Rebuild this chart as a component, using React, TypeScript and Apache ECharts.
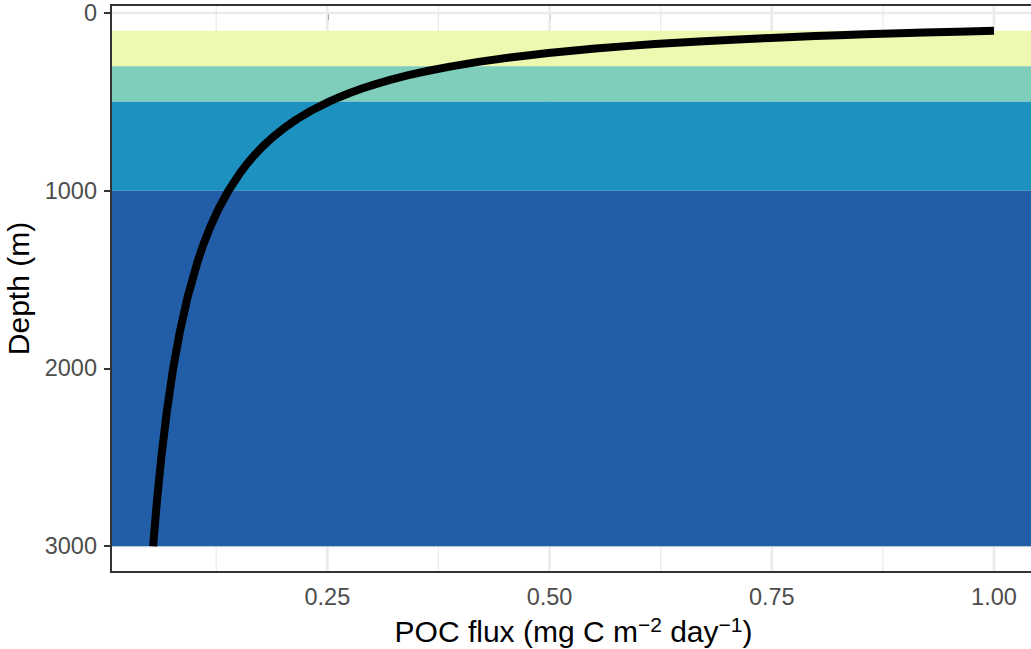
import React, { useEffect, useRef } from "react";
import * as echarts from "echarts";

// Depth (m) and POC flux
const depth = [100, 105, 110, 120, 125, 130, 140, 150, 160, 175, 185, 200, 225, 250, 275, 300, 325, 350, 375, 400, 425, 450, 475, 500, 550, 600, 650, 700, 750, 800, 850, 900, 1000, 1100, 1200, 1300, 1400, 1600, 1800, 2000, 2250, 2500, 2750, 3000];
const flux = [1.0, 0.959, 0.9215, 0.8552, 0.8257, 0.7984, 0.7493, 0.7062, 0.6681, 0.6187, 0.5899, 0.5517, 0.4987, 0.4556, 0.4198, 0.3896, 0.3637, 0.3413, 0.3217, 0.3044, 0.289, 0.2751, 0.2627, 0.2514, 0.2316, 0.2149, 0.2007, 0.1883, 0.1775, 0.1679, 0.1594, 0.1518, 0.1387, 0.1278, 0.1186, 0.1107, 0.1039, 0.0927, 0.0838, 0.0765, 0.0692, 0.0632, 0.0582, 0.054];

// Depth zones
const bandTop = [100, 300, 500, 1000];
const bandBottom = [300, 500, 1000, 3000];
const bandColors = ["#edf8b1", "#7fcdbb", "#1d91c0", "#225ea8"];

// Ticks
const xTicks = [0.25, 0.5, 0.75, 1.0];
const xMinor = [0.125, 0.375, 0.625, 0.875];
const yTicks = [0, 1000, 2000, 3000];
const yMinor = [500, 1500, 2500];

const X_MIN = 0.0066;
const X_MAX = 1.0473;
const Y_MIN = -45;
const Y_MAX = 3145;

const FONT = "'Liberation Sans', Arial, Helvetica, sans-serif";

export default function App() {
  const ref = useRef<HTMLDivElement>(null);
  useEffect(() => {
    document.body.style.margin = "0";
    const chart = echarts.init(ref.current!, undefined, { renderer: "svg" });
    const gridLeft = 111, gridTop = 5, gridW = 925, gridH = 567;
    const vGrid = [...xTicks.map((v) => [v, 1]), ...xMinor.map((v) => [v, 0])];
    const hGrid = [...yTicks.map((v) => [v, 1]), ...yMinor.map((v) => [v, 0])];
    const option: any = {
      animation: false,
      backgroundColor: "#ffffff",
      textStyle: { fontFamily: FONT },
      grid: {
        left: gridLeft,
        top: gridTop,
        width: gridW,
        height: gridH,
        containLabel: false,
        outerBoundsMode: "none",
      },
      xAxis: {
        type: "value",
        min: X_MIN,
        max: X_MAX,
        axisLine: { show: false },
        splitLine: { show: false },
        axisTick: { show: true, customValues: xTicks, length: 7, lineStyle: { color: "#333333", width: 2 } },
        axisLabel: {
          customValues: xTicks,
          formatter: (v: number) => v.toFixed(2),
          color: "#4d4d4d",
          fontSize: 23.5,
          fontFamily: FONT,
          margin: 13,
        },
        name: "{n|POC flux (mg C m}{s|−2}{n| day}{s|−1}{n|)}",
        nameLocation: "middle",
        nameGap: 38,
        nameTextStyle: {
          fontFamily: FONT,
          color: "#000",
          rich: {
            n: { fontSize: 30, lineHeight: 36, fontFamily: FONT, color: "#000" },
            s: { fontSize: 21, lineHeight: 21, verticalAlign: "top", fontFamily: FONT, color: "#000" },
          },
        },
      },
      yAxis: {
        type: "value",
        inverse: true,
        min: Y_MIN,
        max: Y_MAX,
        axisLine: { show: false },
        splitLine: { show: false },
        axisTick: { show: true, customValues: yTicks, length: 7, lineStyle: { color: "#333333", width: 2 } },
        axisLabel: {
          customValues: yTicks,
          formatter: (v: number) => String(v),
          color: "#4d4d4d",
          fontSize: 23.5,
          fontFamily: FONT,
          margin: 14,
        },
        name: "Depth (m)",
        nameLocation: "middle",
        nameGap: 75,
        nameTextStyle: { fontFamily: FONT, fontSize: 30, color: "#000" },
      },
      graphic: [
        {
          type: "rect",
          z: 100,
          silent: true,
          shape: { x: gridLeft, y: gridTop, width: gridW, height: gridH },
          style: { fill: "none", stroke: "#333333", lineWidth: 2 },
        },
      ],
      series: [
        {
          type: "custom",
          z: 1,
          silent: true,
          clip: true,
          data: vGrid,
          encode: { x: 0 },
          renderItem: (params: any, api: any) => {
            const cs = params.coordSys;
            const x = api.coord([api.value(0), Y_MIN])[0];
            return {
              type: "line",
              shape: { x1: x, y1: cs.y, x2: x, y2: cs.y + cs.height },
              style: { stroke: "#ebebeb", lineWidth: api.value(1) ? 2.6 : 1.3 },
            };
          },
        },
        {
          type: "custom",
          z: 1,
          silent: true,
          clip: true,
          data: hGrid,
          encode: { y: 0 },
          renderItem: (params: any, api: any) => {
            const cs = params.coordSys;
            const y = api.coord([X_MIN, api.value(0)])[1];
            return {
              type: "line",
              shape: { x1: cs.x, y1: y, x2: cs.x + cs.width, y2: y },
              style: { stroke: "#ebebeb", lineWidth: api.value(1) ? 2.6 : 1.3 },
            };
          },
        },
        {
          type: "custom",
          z: 2,
          silent: true,
          clip: true,
          data: bandTop.map((t, i) => [t, bandBottom[i], i]),
          encode: { y: [0, 1] },
          renderItem: (params: any, api: any) => {
            const cs = params.coordSys;
            const y1 = api.coord([X_MIN, api.value(0)])[1];
            const y2 = api.coord([X_MIN, api.value(1)])[1];
            return {
              type: "rect",
              shape: { x: cs.x, y: Math.min(y1, y2), width: cs.width, height: Math.abs(y2 - y1) },
              style: { fill: bandColors[api.value(2)] },
            };
          },
        },
        {
          type: "line",
          z: 3,
          data: depth.map((d, i) => [flux[i], d]),
          showSymbol: false,
          symbol: "none",
          smooth: false,
          lineStyle: { color: "#000000", width: 8, cap: "butt", join: "round" },
        },
      ],
    };
    chart.setOption(option);
    return () => chart.dispose();
  }, []);
  return <div ref={ref} style={{ width: 1031, height: 649 }} />;
}
